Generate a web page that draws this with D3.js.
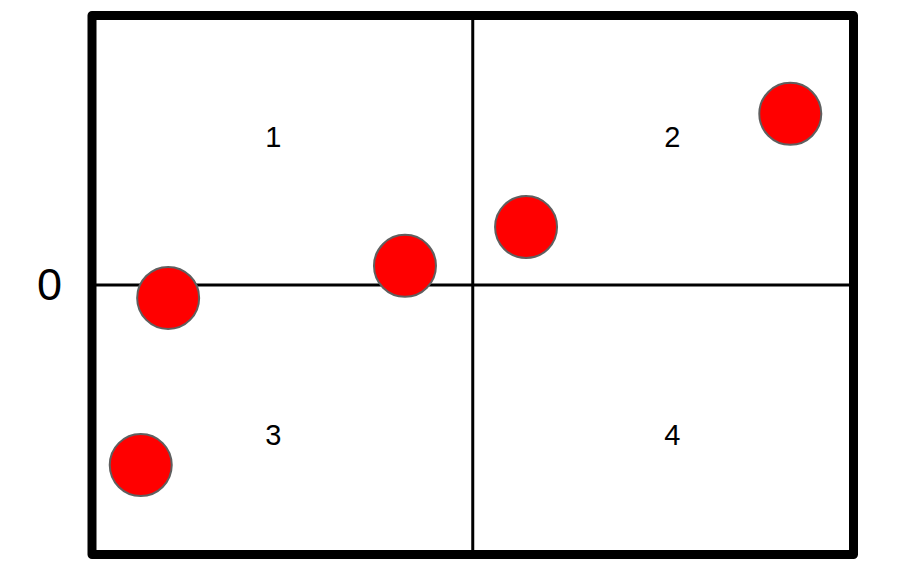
<!DOCTYPE html>
<html><head><meta charset="utf-8">
<script src="https://cdn.jsdelivr.net/npm/d3@7"></script>
<style>body{margin:0;background:#fff}svg{display:block}</style>
</head><body>
<script>
const pointsX = [10, 41.1, 57, 91.7, 6.4];
const pointsY = [-4.8, 7.1, 21.5, 63.5, -66.8];
const quadrantLabels = ["1", "2", "3", "4"];
const quadrantX = [23.8, 76.2, 23.8, 76.2];
const quadrantY = [55, 55, -55.5, -55.5];
const yTickLabels = ["0"];
const yTickValues = [0];

const W = 907, H = 572;
const svg = d3.select("body").append("svg").attr("width", W).attr("height", H);
const x = d3.scaleLinear().domain([0, 100]).range([92, 853.5]);
const y = d3.scaleLinear().domain([-100, 100]).range([554.5, 15.5]);

// inner cross lines
svg.append("line").attr("x1", x(50)).attr("x2", x(50)).attr("y1", y(100)).attr("y2", y(-100))
  .attr("stroke", "#000").attr("stroke-width", 3);
svg.append("line").attr("x1", x(0)).attr("x2", x(100)).attr("y1", y(0)).attr("y2", y(0))
  .attr("stroke", "#000").attr("stroke-width", 3);

// frame
svg.append("rect").attr("x", x(0)).attr("y", y(100)).attr("width", x(100) - x(0)).attr("height", y(-100) - y(100))
  .attr("fill", "none").attr("stroke", "#000").attr("stroke-width", 9).attr("stroke-linejoin", "round");

// y axis label
const yAxis = d3.axisLeft(y).tickValues(yTickValues).tickFormat((d, i) => yTickLabels[i]).tickSize(0).tickPadding(30);
const ya = svg.append("g").attr("transform", `translate(${x(0)},0)`).call(yAxis);
ya.select(".domain").remove();
ya.selectAll("text").attr("font-family", "Liberation Sans, Arial, sans-serif").attr("font-size", 45).attr("fill", "#000");

// quadrant labels
svg.selectAll("text.q").data(quadrantLabels).join("text").attr("class", "q")
  .attr("x", (d, i) => x(quadrantX[i])).attr("y", (d, i) => y(quadrantY[i]))
  .attr("text-anchor", "middle").attr("dominant-baseline", "central")
  .attr("font-family", "Liberation Sans, Arial, sans-serif").attr("font-size", 29).attr("fill", "#000")
  .text(d => d);

// points
svg.selectAll("circle").data(pointsX).join("circle")
  .attr("cx", d => x(d)).attr("cy", (d, i) => y(pointsY[i])).attr("r", 31)
  .attr("fill", "#ff0000").attr("stroke", "#5f5f5f").attr("stroke-width", 2);
</script>
</body></html>
